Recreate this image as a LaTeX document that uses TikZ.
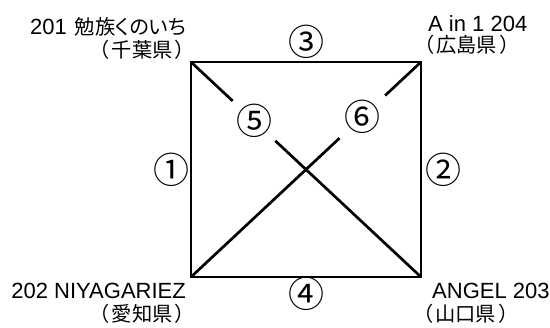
\documentclass[tikz,border=0pt]{standalone}
\usepackage{fontspec}
\setmainfont{Liberation Sans}
\newfontfamily\jpfont[Scale=0.92]{Noto Sans CJK JP}
\newfontfamily\jppfont[Scale=0.92,RawFeature=+palt]{Noto Sans CJK JP}
\newfontfamily\numfont{Noto Sans CJK JP}
\usetikzlibrary{positioning}
\newcommand{\jp}[1]{{\jpfont #1}}
\newcommand{\pref}[1]{\jp{（\kern2pt#1\kern2pt）}}
\tikzset{
  x=1pt, y=-1pt,
  edge/.style={line width=2.7pt},
  num/.style={font=\numfont\fontsize{36}{38}\selectfont, inner sep=0pt},
  place/.style={font=\fontsize{22}{23}\selectfont, inner sep=0pt},
  gap/.style={num, circle, minimum size=58pt},
}

\begin{document}
\begin{tikzpicture}
  \useasboundingbox (0,0) rectangle (550,328);
  % corners of the square
  \coordinate (tl) at (191,62);
  \coordinate (tr) at (421,62);
  \coordinate (bl) at (191,277);
  \coordinate (br) at (421,277);

  \draw[edge] (tl) -- node[num, yshift=20pt] (e3) {③} (tr)
    -- node[num, xshift=22pt] (e2) {②} (br)
    -- node[num, yshift=-17pt] (e4) {④} (bl)
    -- node[num, xshift=-19.5pt] (e1) {①} cycle;

  % crossing lines, broken round their numbers
  \path (tl) -- (br) node[gap, pos=0.274] (d5) {⑤};
  \path (tr) -- (bl) node[gap, pos=0.255, minimum size=62pt] (d6) {⑥};
  \draw[edge] (tl) -- (d5) -- (br);
  \draw[edge] (tr) -- (d6) -- (bl);

  \node[place, align=right, above left=2.5pt and 5pt of tl] (c201) {201\kern8pt{\jppfont 勉族くのいち}\\\pref{千葉県}\kern-9pt};
  \node[place, align=left, above right=7.5pt and 7pt of tr] (c204) {A in 1 204\\[-2pt]\hspace*{-14pt}\pref{広島県}};
  \node[place, align=right, below left=6pt and 5pt of bl] (c202) {202 NIYAGARIEZ\\\pref{愛知県}\kern-9pt};
  \node[place, align=left, below right=6pt and 11pt of br] (c203) {ANGEL 203\\\hspace*{-19pt}\pref{山口県}};
\end{tikzpicture}
\end{document}
